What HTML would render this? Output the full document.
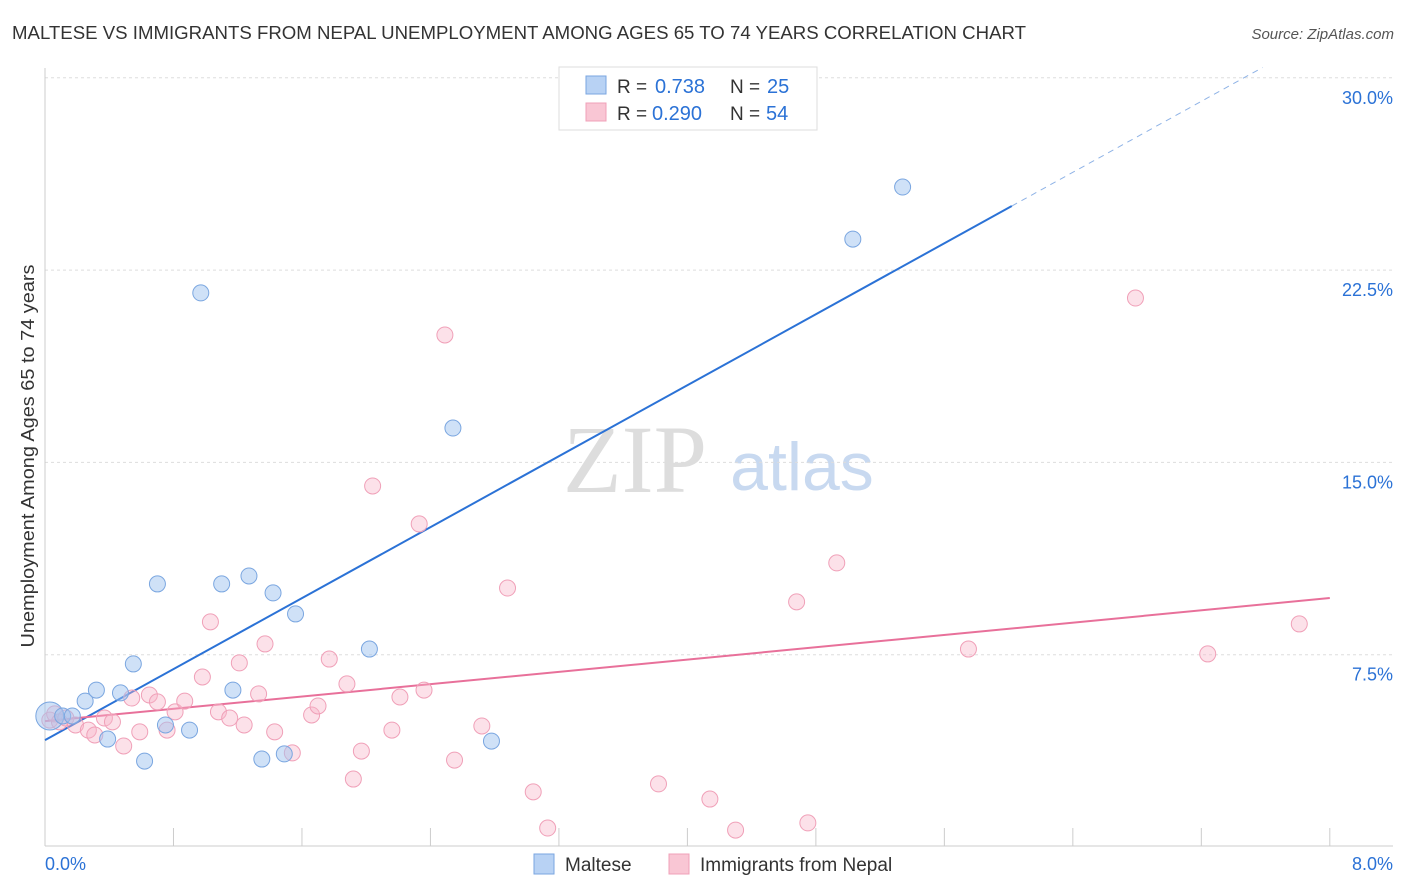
<!DOCTYPE html>
<html><head><meta charset="utf-8">
<style>
body{margin:0;background:#fff;font-family:"Liberation Sans",sans-serif;}
#wrap{position:relative;width:1406px;height:892px;overflow:hidden;}
</style></head>
<body>
<div id="wrap">
<svg id="svg" width="1406" height="892" xmlns="http://www.w3.org/2000/svg">
<text x="12" y="39" font-size="18.5" fill="#333" textLength="1014" lengthAdjust="spacingAndGlyphs">MALTESE VS IMMIGRANTS FROM NEPAL UNEMPLOYMENT AMONG AGES 65 TO 74 YEARS CORRELATION CHART</text>
<text x="1394" y="39" font-size="15" fill="#555" font-style="italic" text-anchor="end">Source: ZipAtlas.com</text>
<text x="635" y="492" font-size="96" fill="#ddd" font-family="Liberation Serif,serif" text-anchor="middle">ZIP</text>
<text x="802" y="490" font-size="68" fill="#c8d9f0" text-anchor="middle">atlas</text>
<text transform="translate(34,456) rotate(-90)" font-size="18" fill="#333" text-anchor="middle" textLength="383" lengthAdjust="spacingAndGlyphs">Unemployment Among Ages 65 to 74 years</text>
<g id="grid"></g>
<g id="lines"></g>
<g id="pts"></g>
<g>
<rect x="559" y="67" width="258" height="63" fill="#fff" stroke="#ddd"/>
<rect x="586" y="76" width="20" height="18" fill="#b8d2f4" stroke="#7aa6e0"/>
<rect x="586" y="103" width="20" height="18" fill="#f9c6d4" stroke="#f0a0b8"/>
<text x="617" y="93" font-size="19" fill="#333">R =</text>
<text x="655" y="93" font-size="20" fill="#2b72d6">0.738</text>
<text x="730" y="93" font-size="19" fill="#333">N =</text>
<text x="767" y="93" font-size="20" fill="#2b72d6">25</text>
<text x="617" y="120" font-size="19" fill="#333">R =</text>
<text x="652" y="120" font-size="20" fill="#2b72d6">0.290</text>
<text x="730" y="120" font-size="19" fill="#333">N =</text>
<text x="766" y="120" font-size="20" fill="#2b72d6">54</text>
</g>
<g>
<rect x="534" y="854" width="20" height="20" fill="#b8d2f4" stroke="#7aa6e0"/>
<text x="565" y="871" font-size="19" fill="#333">Maltese</text>
<rect x="669" y="854" width="20" height="20" fill="#f9c6d4" stroke="#f0a0b8"/>
<text x="700" y="871" font-size="19" fill="#333">Immigrants from Nepal</text>
</g>
</svg>
</div>
<script>
const xTicks=[0,0.8,1.6,2.4,3.2,4.0,4.8,5.6,6.4,7.2,8.0];
const yTicks=[7.5,15,22.5,30];
const yTickLabels=["7.5%","15.0%","22.5%","30.0%"];
const blueX=[0.03,0.11,0.17,0.25,0.32,0.39,0.47,0.55,0.62,0.70,0.75,0.90,0.97,1.10,1.17,1.27,1.35,1.42,1.49,1.56,2.02,2.54,2.78,5.03,5.34];
const blueY=[5.11,5.11,5.11,5.69,6.12,4.21,6.01,7.14,3.35,10.26,4.76,4.56,21.61,10.26,6.12,10.57,3.43,9.91,3.63,9.09,7.72,16.34,4.13,23.71,25.74];
const pinkX=[0.03,0.06,0.09,0.13,0.19,0.27,0.31,0.37,0.42,0.49,0.54,0.59,0.65,0.70,0.76,0.81,0.87,0.98,1.03,1.08,1.15,1.21,1.24,1.33,1.37,1.43,1.54,1.66,1.70,1.77,1.88,1.92,1.97,2.04,2.16,2.21,2.33,2.36,2.49,2.55,2.72,2.88,3.04,3.13,3.82,4.14,4.30,4.68,4.75,4.93,5.75,6.79,7.24,7.81];
const pinkY=[4.95,5.19,4.88,5.03,4.76,4.56,4.37,5.03,4.88,3.94,5.81,4.49,5.93,5.66,4.56,5.27,5.69,6.63,8.78,5.27,5.03,7.18,4.76,5.97,7.92,4.49,3.67,5.15,5.50,7.33,6.36,2.65,3.74,14.08,4.56,5.85,12.60,6.12,19.97,3.39,4.72,10.10,2.15,0.74,2.46,1.87,0.66,9.56,0.94,11.08,7.72,21.41,7.53,8.70];
const blueTrend=[4.17,3.46];  // intercept, slope
const pinkTrend=[4.91,0.60];
const NS="http://www.w3.org/2000/svg";
const X=v=>45+v*160.6, Y=v=>847-v*25.64;
function mk(tag,attrs,parent){const e=document.createElementNS(NS,tag);for(const k in attrs)e.setAttribute(k,attrs[k]);document.getElementById(parent).appendChild(e);return e;}
const g='grid';
yTicks.forEach((t,i)=>{
 const l=mk('line',{x1:45,x2:1393,y1:Y(t),y2:Y(t),stroke:'#ddd','stroke-dasharray':'3,3'},g);
 
 
 const tx=mk('text',{x:1393,y:Y(t)+26,'font-size':18,fill:'#2b72d6','text-anchor':'end'},g);tx.textContent=yTickLabels[i];
 
 
});
const ax=mk('line',{x1:45,x2:45,y1:68,y2:846,stroke:'#ccc'},g);


const bx=mk('line',{x1:45,x2:1393,y1:846,y2:846,stroke:'#ccc'},g);


xTicks.forEach(t=>{const l=mk('line',{x1:X(t),x2:X(t),y1:828,y2:846,stroke:'#ccc'},g);
 
 });
[[0,'0.0%','start',45],[8,'8.0%','end',1393]].forEach(a=>{const t=mk('text',{x:a[3],y:870,'font-size':18,fill:'#2b72d6','text-anchor':a[2]},g);t.textContent=a[1];
 
 });
const bEnd=6.02;
let l1=mk('line',{x1:X(0),y1:Y(blueTrend[0]),x2:X(bEnd),y2:Y(blueTrend[0]+blueTrend[1]*bEnd),stroke:'#2b72d6','stroke-width':2},'lines');


const bx2=(30.4-blueTrend[0])/blueTrend[1];
let l2=mk('line',{x1:X(bEnd),y1:Y(blueTrend[0]+blueTrend[1]*bEnd),x2:X(bx2),y2:Y(30.4),stroke:'#8fb3e6','stroke-width':1,'stroke-dasharray':'6,5'},'lines');


let l3=mk('line',{x1:X(0),y1:Y(pinkTrend[0]),x2:X(8),y2:Y(pinkTrend[0]+pinkTrend[1]*8),stroke:'#e8709a','stroke-width':2},'lines');


pinkX.forEach((v,i)=>{const c=mk('circle',{cx:X(v),cy:Y(pinkY[i]),r:8,fill:'rgba(248,180,200,0.4)',stroke:'#f0a0b8','stroke-width':1},'pts');
 
 });
blueX.forEach((v,i)=>{const c=mk('circle',{cx:X(v),cy:Y(blueY[i]),r:i===0?14:8,fill:'rgba(160,196,240,0.5)',stroke:'#7aa6e0','stroke-width':1},'pts');
 
 });
</script>
</body></html>
